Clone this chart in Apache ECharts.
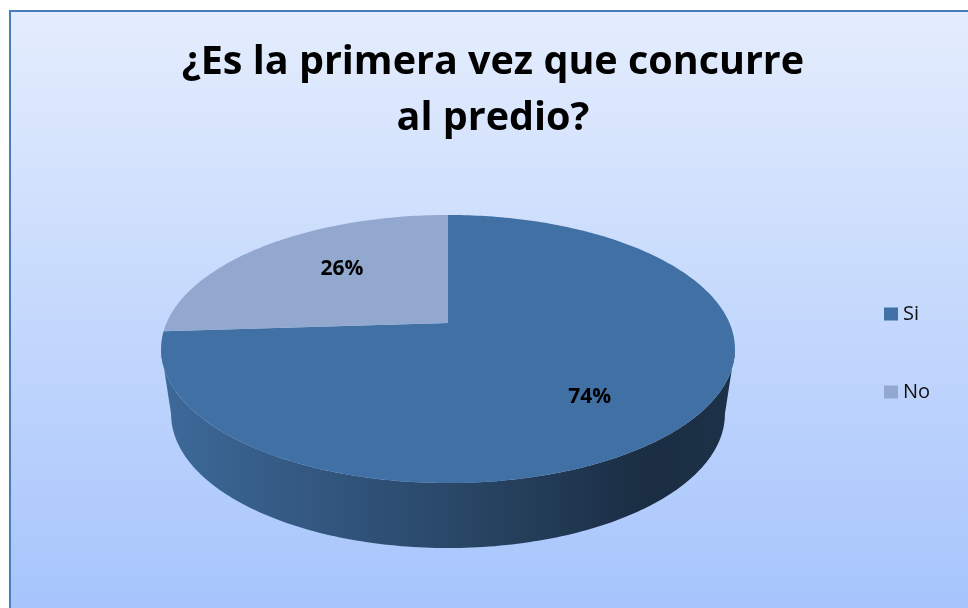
<!DOCTYPE html>
<html>
<head>
<meta charset="utf-8">
<title>¿Es la primera vez que concurre al predio?</title>
<script src="https://cdn.jsdelivr.net/npm/echarts@6/dist/echarts.min.js"></script>
<style>
  html, body { margin: 0; padding: 0; background: #fff; }
  #chart { width: 968px; height: 608px; }
</style>
</head>
<body>
<div id="chart"></div>
<script>
// datos
const categories = ['Si', 'No'];
const values = [74, 26];
const titleText = '¿Es la primera vez que concurre\nal predio?';

// colores de cada porción (cara superior)
const sliceColors = ['#4170a4', '#93a8ce'];

// geometría del pastel 3D: elipse con una perspectiva simple
const pie = { cx: 448, cy: 323, rx: 281.5, ry: 129, persp: 0.194, depth: 65, bottomScale: 0.965 };

const total = values.reduce((a, b) => a + b, 0);
const starts = [];
values.reduce((acc, v, i) => { starts[i] = acc; return acc + v; }, 0);

// punto del disco (ángulo, fracción de radio) -> pantalla
function project(theta, f, bottom) {
  const c = Math.cos(theta), s = Math.sin(theta);
  const w = 1 + pie.persp * f * s;
  const sx = bottom ? pie.bottomScale : 1;
  return [
    pie.cx + sx * pie.rx * f * c / w,
    pie.cy + (bottom ? pie.depth : 0) - pie.ry * f * s / w
  ];
}

// oscurecer un color mezclándolo con negro
function shade(hex, k) {
  const n = parseInt(hex.slice(1), 16);
  const ch = [(n >> 16) & 255, (n >> 8) & 255, n & 255].map(v => Math.round(v * (1 - k)));
  return 'rgb(' + ch.join(',') + ')';
}

function renderSlice(params, api) {
  const value = api.value(0);
  const start = api.value(1);
  const color = sliceColors[params.seriesIndex];
  const a0 = Math.PI / 2 - 2 * Math.PI * start / total;
  const a1 = Math.PI / 2 - 2 * Math.PI * (start + value) / total;
  const deg = Math.PI / 180;
  const children = [];

  // pared lateral (sólo la parte frontal visible)
  const edge = Math.asin(pie.persp);
  const vis0 = -Math.PI + edge, vis1 = -edge;
  const left = project(Math.PI + edge, 1, false)[0];
  const right = project(-edge, 1, false)[0];
  [-2 * Math.PI, 0, 2 * Math.PI].forEach(shift => {
    const lo = Math.max(a1 + shift, vis0);
    const hi = Math.min(a0 + shift, vis1);
    if (hi <= lo) return;
    const n = Math.ceil((hi - lo) / deg);
    const pts = [];
    for (let j = 0; j <= n; j++) pts.push(project(lo + (hi - lo) * j / n, 1, false));
    for (let j = n; j >= 0; j--) pts.push(project(lo + (hi - lo) * j / n, 1, true));
    children.push({
      type: 'polygon',
      z2: 1,
      shape: { points: pts },
      style: {
        fill: {
          type: 'linear', x: left, y: 0, x2: right, y2: 0, global: true,
          colorStops: [
            { offset: 0, color: shade(color, 0.06) },
            { offset: 0.5, color: shade(color, 0.36) },
            { offset: 0.85, color: shade(color, 0.6) },
            { offset: 1, color: shade(color, 0.56) }
          ]
        }
      }
    });
  });

  // cara superior
  const n = Math.max(2, Math.ceil((a0 - a1) / deg));
  const top = [[pie.cx, pie.cy]];
  for (let j = 0; j <= n; j++) top.push(project(a0 - (a0 - a1) * j / n, 1, false));
  children.push({ type: 'polygon', z2: 5, shape: { points: top }, style: { fill: color } });

  // etiqueta de porcentaje
  const mid = (a0 + a1) / 2;
  children.push({
    type: 'text',
    z2: 10,
    x: project(mid, 0.6, false)[0] + 8,
    y: project(mid, 0.72, false)[1] + 4,
    style: {
      text: Math.round(value / total * 100) + '%',
      fontFamily: 'Open Sans',
      fontWeight: 'bold',
      fontSize: 21,
      fill: '#000',
      align: 'center',
      verticalAlign: 'middle'
    }
  });

  return { type: 'group', children: children };
}

const chart = echarts.init(document.getElementById('chart'));

const option = {
  animation: false,
  graphic: [
    {
      type: 'rect',
      z: -10,
      shape: { x: 10, y: 11, width: 980, height: 620 },
      style: {
        fill: {
          type: 'linear', x: 0, y: 0, x2: 0, y2: 1,
          colorStops: [
            { offset: 0, color: '#e4edfd' },
            { offset: 1, color: '#a4c3fc' }
          ]
        },
        stroke: '#4a7ebb',
        lineWidth: 2
      }
    }
  ],
  title: {
    text: titleText,
    left: 493,
    top: 35,
    textAlign: 'center',
    padding: 0,
    textStyle: {
      fontFamily: 'Open Sans',
      fontWeight: 'bold',
      fontSize: 39.5,
      lineHeight: 56,
      color: '#000'
    }
  },
  legend: {
    orient: 'vertical',
    left: 884,
    top: 304,
    padding: 0,
    icon: 'rect',
    itemWidth: 14,
    itemHeight: 13,
    itemGap: 58,
    data: categories,
    textStyle: { fontFamily: 'Open Sans', fontSize: 20, color: '#111' }
  },
  series: categories.map((name, i) => ({
    type: 'custom',
    name: name,
    coordinateSystem: 'none',
    silent: true,
    itemStyle: { color: sliceColors[i] },
    renderItem: renderSlice,
    data: [[values[i], starts[i]]]
  }))
};

chart.setOption(option);
window.addEventListener('resize', () => chart.resize());
</script>
</body>
</html>
